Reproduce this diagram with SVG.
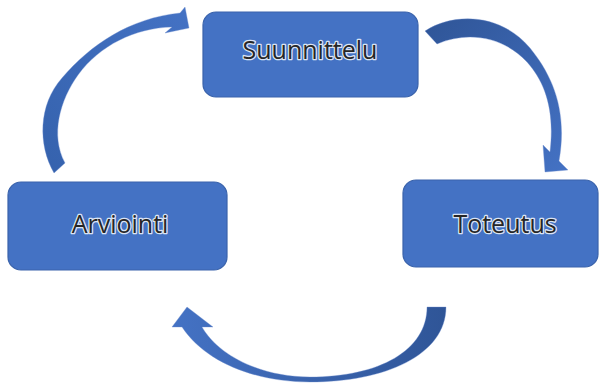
<svg xmlns="http://www.w3.org/2000/svg" width="600" height="385" viewBox="0 0 600 385">
<style>
.box{fill:#4472c4;stroke:#3a63ab;stroke-width:1.2}
.lbl{font-family:"Open Sans","Liberation Sans",sans-serif;font-size:25px;fill:#262626;stroke:#dbe4f4;stroke-width:2.6;stroke-linejoin:round;paint-order:stroke;text-anchor:middle}
.arr{stroke:#6f8fd0;stroke-width:0.6;stroke-opacity:0.6}
</style>
<defs>
<linearGradient id="g1" x1="0" y1="1" x2="1" y2="0">
<stop offset="0" stop-color="#3562ad"/><stop offset="1" stop-color="#4472c4"/>
</linearGradient>
<linearGradient id="g2" x1="0" y1="0" x2="1" y2="1">
<stop offset="0" stop-color="#2f5597"/><stop offset="1" stop-color="#4472c4"/>
</linearGradient>
<linearGradient id="g3" x1="0" y1="0" x2="1" y2="0">
<stop offset="0" stop-color="#4472c4"/><stop offset="1" stop-color="#2f5597"/>
</linearGradient>
</defs>
<g id="connectors">
<path class="arr" fill="url(#g1)" d="M54,173 C38,145 38,105 62,78 C90,45 130,18 180,13 L185,7 L189,28 L165,33 L172,27 C135,28 100,45 78,75 C60,100 50,135 65,163 Z"/>
<path class="arr" fill="url(#g2)" d="M425,31 C452,13 500,12 530,48 C552,75 568,110 559,161 L568,170 L545,172 L543,145 L550,152 C555,110 545,82 527,62 C505,38 470,30 437,44 Z"/>
<path class="arr" fill="url(#g3)" d="M427,307 C427,350 380,377 310,377 C260,377 218,355 202,327 L213,327 L187,307 L172,327 L182,327 C205,362 255,382 310,382 C385,382 446,355 446,307 Z"/>
</g>
<g id="suunnittelu">
<rect class="box" x="203" y="12" width="215" height="85" rx="13"/>
<text class="lbl" x="310" y="59">Suunnittelu</text>
</g>
<g id="toteutus">
<rect class="box" x="403" y="180" width="195" height="87" rx="13"/>
<text class="lbl" x="505" y="233">Toteutus</text>
</g>
<g id="arviointi">
<rect class="box" x="8" y="182" width="219" height="88" rx="13"/>
<text class="lbl" x="120" y="233">Arviointi</text>
</g>
</svg>
